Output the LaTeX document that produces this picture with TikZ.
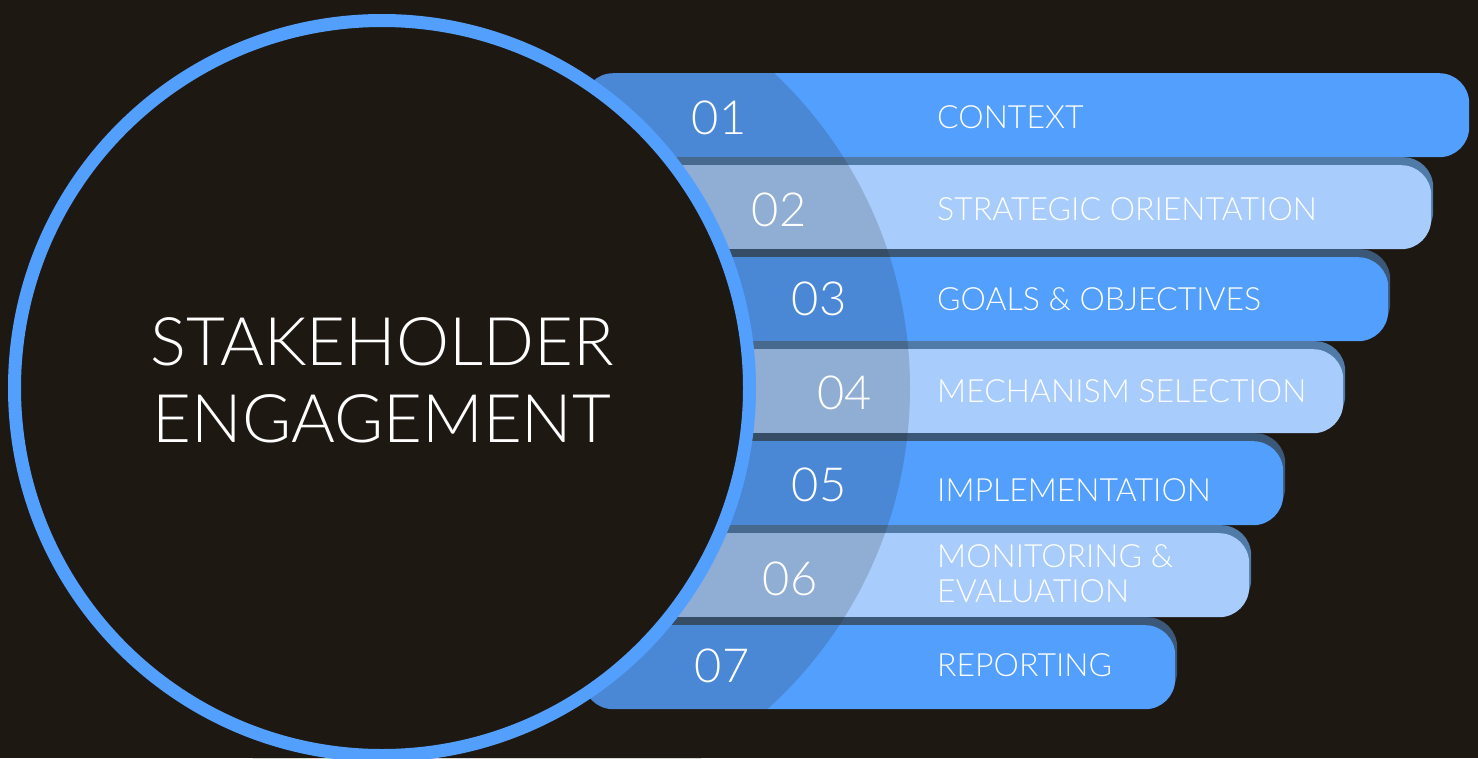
\documentclass[tikz,border=0pt]{standalone}
\usepackage{fontspec}
\setmainfont{Lato Light}
\usetikzlibrary{shadows}

\definecolor{bgdark}{HTML}{1E1813}
\definecolor{barblue}{HTML}{539FFE}
\definecolor{barlight}{HTML}{A8CCFC}
\definecolor{shadeblue}{HTML}{3C5878}
\definecolor{shadelight}{HTML}{507AA8}

\begin{document}
\begin{tikzpicture}[
        x=1pt, y=-1pt,
        bar/.style={rectangle, rounded corners=30pt, inner sep=0pt, minimum height=84pt, anchor=north west, draw=none},
        topbar/.style={fill=barblue},
        bluebar/.style={fill=barblue, copy shadow={fill=shadeblue, draw=none, shadow xshift=2pt, shadow yshift=8pt}},
        lightbar/.style={fill=barlight, copy shadow={fill=shadelight, draw=none, shadow xshift=2pt, shadow yshift=8pt}},
        hub/.style={circle, fill=bgdark, draw=barblue, line width=13pt, minimum size=735pt, inner sep=0pt},
        title/.style={text=white, align=center, inner sep=0pt, font=\fontsize{67}{77}\selectfont},
        num/.style={text=white, inner sep=0pt, anchor=base, font=\fontsize{47}{50}\selectfont},
        step label/.style={text=white, inner sep=0pt, anchor=west, align=left, font=\fontsize{32}{35}\selectfont}
    ]

    \useasboundingbox (0,0) rectangle (1478,758);
    \fill[bgdark] (0,0) rectangle (1478,758);

    % Bars
    \foreach \i/\rx/\kind in {1/1469/topbar, 2/1431/lightbar, 3/1388/bluebar, 4/1343/lightbar,
                              5/1283/bluebar, 6/1249/lightbar, 7/1175/bluebar}
        \node[bar, \kind, minimum width={\rx pt-583pt}] (bar\i) at (583, {73+92*(\i-1)}) {};

    % darker band over the bar heads
    \fill[bgdark, fill opacity=0.17] (477,388) circle (433);

    % Hub
    \node[hub] (hub) at (382,388) {};
    \node[title] (title) at (382,380) {STAKEHOLDER\\ENGAGEMENT};

    % Numbers and labels
    \foreach \i/\nx/\ny/\ly/\ttl in {1/719/134/117/CONTEXT,
                                     2/779/226/209/STRATEGIC ORIENTATION,
                                     3/819/315/299/GOALS \& OBJECTIVES,
                                     4/844.5/409/391/MECHANISM SELECTION,
                                     5/819/501/490/IMPLEMENTATION,
                                     6/790/595/574/{MONITORING \&\\EVALUATION},
                                     7/722/682/665/REPORTING} {
        \node[num] (num\i) at (\nx,\ny) {0\i};
        \node[step label] (lab\i) at (937,\ly) {\ttl};
    }

\end{tikzpicture}
\end{document}
